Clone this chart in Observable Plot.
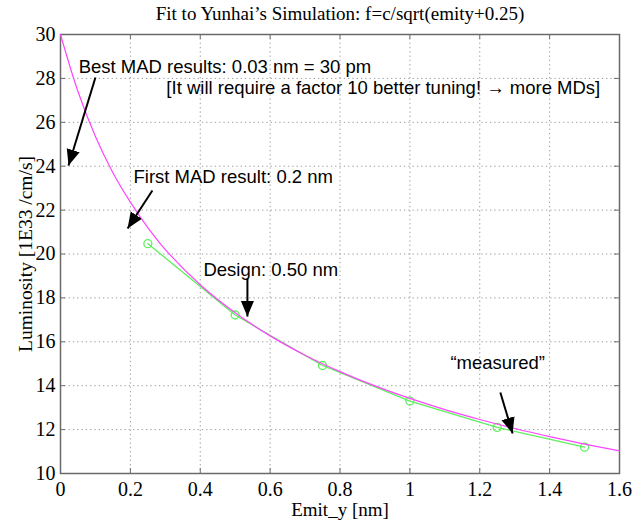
<!DOCTYPE html>
<html>
<head>
<meta charset="utf-8">
<script src="https://cdn.jsdelivr.net/npm/d3@7"></script>
<script src="https://cdn.jsdelivr.net/npm/@observablehq/plot@0.6"></script>
<style>
  html, body { margin: 0; padding: 0; background: #fff; }
  #chart { width: 639px; height: 523px; }
</style>
</head>
<body>
<div id="chart"></div>
<script>
// ---- data ----
const titleText = "Fit to Yunhai\u2019s Simulation: f=c/sqrt(emity+0.25)";
const xLabel = "Emit_y [nm]";
const yLabel = "Luminosity [1E33 /cm/s]";

const xTicks = [0, 0.2, 0.4, 0.6, 0.8, 1.0, 1.2, 1.4, 1.6];
const xTickLabels = ["0", "0.2", "0.4", "0.6", "0.8", "1", "1.2", "1.4", "1.6"];
const yTicks = [10, 12, 14, 16, 18, 20, 22, 24, 26, 28, 30];
const yTickLabels = ["10", "12", "14", "16", "18", "20", "22", "24", "26", "28", "30"];

// fitted curve (magenta)
const fitX = [0, 0.05, 0.1, 0.15, 0.2, 0.25, 0.3, 0.4, 0.5, 0.6, 0.7, 0.8, 0.9, 1.0, 1.1, 1.2, 1.3, 1.4, 1.5, 1.6];
const fitY = [30, 27.4, 25.35, 23.7, 22.36, 21.2, 20.2, 18.6, 17.32, 16.27, 15.39, 14.64, 13.99, 13.42, 12.91, 12.46, 12.05, 11.68, 11.34, 11.03];

// simulation / "measured" points (green)
const simX = [0.25, 0.5, 0.75, 1.0, 1.25, 1.5];
const simY = [20.47, 17.22, 14.92, 13.3, 12.1, 11.2];

// annotations
const annText = [
  "Best MAD results: 0.03 nm = 30 pm",
  "[It will require a factor 10 better tuning! \u2192 more MDs]",
  "First MAD result: 0.2 nm",
  "Design: 0.50 nm",
  "\u201Cmeasured\u201D"
];
const annX = [0.052, 0.303, 0.209, 0.409, 1.116];
const annY = [28.5, 27.54, 23.49, 19.29, 15.01];

// arrows (start -> tip)
const arrX1 = [0.100, 0.263, 0.535, 1.259];
const arrY1 = [28.04, 22.89, 18.88, 13.69];
const arrX2 = [0.023, 0.192, 0.535, 1.294];
const arrY2 = [24.03, 21.16, 17.15, 11.82];

// ---- build tables ----
const fit = fitX.map((x, i) => ({x, y: fitY[i]}));
const sim = simX.map((x, i) => ({x, y: simY[i]}));
const xt = xTicks.map((x, i) => ({x, label: xTickLabels[i]}));
const yt = yTicks.map((y, i) => ({y, label: yTickLabels[i]}));
const ann = annText.map((t, i) => ({t, x: annX[i], y: annY[i]}));
const arrows = arrX1.map((x1, i) => ({x1, y1: arrY1[i], x2: arrX2[i], y2: arrY2[i]}));

const W = 639, H = 523;
const mL = 60, mR = 20, mT = 34, mB = 50;
const fw = W - mL - mR, fh = H - mT - mB;
const serif = "'Liberation Serif', 'Times New Roman', serif";
const sans = "'Liberation Sans', Arial, sans-serif";
const gridColor = "#9a9a9a";
const frameColor = "#6a6a6a";

const chart = Plot.plot({
  width: W,
  height: H,
  marginLeft: mL,
  marginRight: mR,
  marginTop: mT,
  marginBottom: mB,
  x: {domain: [0, 1.6], axis: null},
  y: {domain: [10, 30], axis: null},
  style: {fontFamily: serif, fontSize: "18px", background: "white", color: "black"},
  marks: [
    // grid
    Plot.ruleX(xTicks.slice(1, -1), {stroke: gridColor, strokeWidth: 1, strokeDasharray: "1.3,3"}),
    Plot.ruleY(yTicks.slice(1, -1), {stroke: gridColor, strokeWidth: 1, strokeDasharray: "1.3,3"}),
    // inward ticks on all four sides
    Plot.ruleX(xTicks, {stroke: frameColor, insetTop: fh - 5}),
    Plot.ruleX(xTicks, {stroke: frameColor, insetBottom: fh - 5}),
    Plot.ruleY(yTicks, {stroke: frameColor, insetRight: fw - 5}),
    Plot.ruleY(yTicks, {stroke: frameColor, insetLeft: fw - 5}),
    Plot.frame({stroke: frameColor, strokeWidth: 1.5}),
    // data
    Plot.line(sim, {x: "x", y: "y", stroke: "#5cf05c", strokeWidth: 1.3}),
    Plot.dot(sim, {x: "x", y: "y", r: 4, stroke: "#5cf05c", strokeWidth: 1.3, fill: "none"}),
    Plot.line(fit, {x: "x", y: "y", stroke: "#ff44ff", strokeWidth: 1.2, curve: "catmull-rom"}),
    // annotations
    Plot.link(arrows, {x1: "x1", y1: "y1", x2: "x2", y2: "y2", stroke: "black", strokeWidth: 2, markerEnd: "arrow"}),
    Plot.text(ann, {x: "x", y: "y", text: "t", textAnchor: "start", lineAnchor: "middle", fontFamily: sans, fontSize: 18.5, fill: "black"}),
    // tick labels
    Plot.text(xt, {x: "x", text: "label", frameAnchor: "bottom", textAnchor: "middle", lineAnchor: "middle", dy: 16, fontSize: 20}),
    Plot.text(yt, {y: "y", text: "label", frameAnchor: "left", textAnchor: "end", lineAnchor: "middle", dx: -5, fontSize: 20}),
    // axis labels and title
    Plot.text([xLabel], {frameAnchor: "bottom", textAnchor: "middle", lineAnchor: "middle", dy: 36, fontSize: 19}),
    Plot.text([yLabel], {frameAnchor: "left", textAnchor: "middle", lineAnchor: "middle", dx: -35, rotate: -90, fontSize: 19.5}),
    Plot.text([titleText], {frameAnchor: "top", textAnchor: "middle", lineAnchor: "middle", dy: -21, fontSize: 19})
  ]
});

// filled arrowheads
d3.select(chart).selectAll("marker")
  .attr("viewBox", "-10 -5 10 10")
  .attr("markerUnits", "userSpaceOnUse")
  .attr("markerWidth", 16)
  .attr("markerHeight", 16)
  .attr("fill", "black")
  .attr("stroke", "none")
  .selectAll("path")
  .attr("d", "M-10,-4.2L0,0L-10,4.2Z");

document.getElementById("chart").appendChild(chart);
</script>
</body>
</html>
